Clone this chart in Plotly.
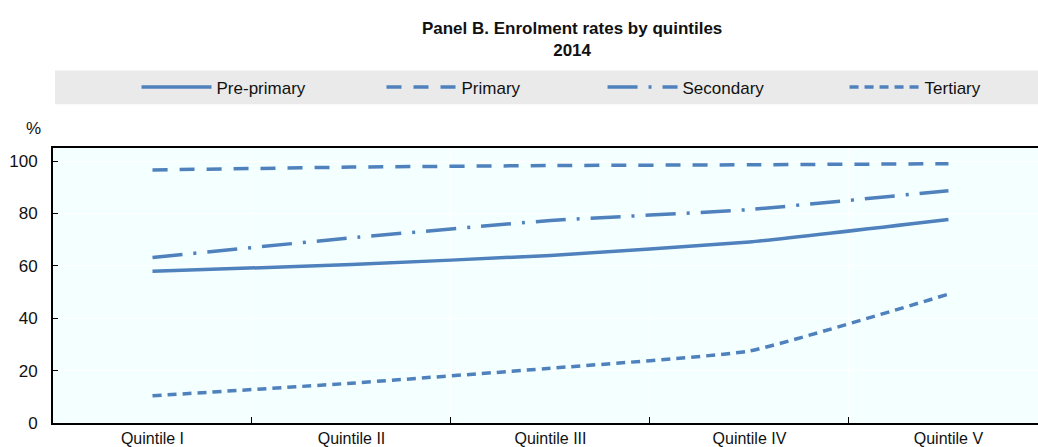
import plotly.graph_objects as go

BLUE = "#4F81BD"
BG = "#F4FFFF"
BAND = "#EAEAEA"
FONT = "Liberation Sans, Arial, sans-serif"

quintiles = ["Quintile I", "Quintile II", "Quintile III", "Quintile IV", "Quintile V"]
pre_primary = [57.9, 60.5, 64.0, 69.1, 77.7]
primary = [96.6, 97.7, 98.3, 98.6, 99.0]
secondary = [63.2, 70.7, 77.3, 81.5, 88.7]
tertiary = [10.4, 15.2, 20.9, 27.5, 49.2]

# name, values, dash pattern, legend id, legend x (paper)
series = [
    ("Pre-primary", pre_primary, "solid", "legend", 0.0848),
    ("Primary", primary, "15px,12px", "legend2", 0.3335),
    ("Secondary", secondary, "30px,11px,3px,11px", "legend3", 0.5579),
    ("Tertiary", tertiary, "9px,6px", "legend4", 0.8036),
]

fig = go.Figure()
legends = {}
for name, vals, dash, leg, lx in series:
    fig.add_trace(go.Scatter(
        x=quintiles, y=vals, name=name, mode="lines", legend=leg, showlegend=True,
        line=dict(color=BLUE, width=3.5, dash=dash, shape="spline", smoothing=0.4),
    ))
    # one legend per series so the entries sit where the original has them
    legends[leg] = dict(orientation="h", x=lx, xanchor="left", y=1.22, yanchor="middle",
                        bgcolor="rgba(0,0,0,0)", itemwidth=70, font=dict(size=17))

# grey band behind the legend
fig.add_shape(type="rect", xref="paper", yref="paper",
              x0=0.002, x1=1, y0=1.159, y1=1.2816,
              fillcolor=BAND, line_width=0, layer="below")

fig.add_annotation(text="%", xref="paper", yref="paper", x=-0.0203, y=1.072,
                   xanchor="center", yanchor="middle",
                   showarrow=False, font=dict(size=17))

fig.update_layout(
    width=1038, height=447, showlegend=True,
    paper_bgcolor="white", plot_bgcolor=BG,
    font=dict(family=FONT, size=17, color="#111"),
    margin=dict(l=53, r=0, t=148, b=22),
    title=dict(text="<b>Panel B. Enrolment rates by quintiles<br>2014</b>",
               x=0.527, xref="paper", xanchor="center",
               y=0.925, yanchor="top", font=dict(size=17)),
    xaxis=dict(range=[-0.5, 4.45], tickson="boundaries", ticks="inside", ticklen=6,
               tickcolor="#000", showgrid=True, gridcolor="white", gridwidth=1,
               showline=True, linecolor="#000", linewidth=2, mirror=True,
               tickfont=dict(size=16)),
    yaxis=dict(range=[0, 105], tickvals=[0, 20, 40, 60, 80, 100],
               ticks="inside", ticklen=5, tickcolor="#000", ticklabelstandoff=10,
               showgrid=True, gridcolor="white", gridwidth=1, zeroline=False,
               showline=True, linecolor="#000", linewidth=2,
               tickfont=dict(size=17)),
    **legends,
)

fig.write_html("out.html", config={"displayModeBar": False},
               post_script="document.body.style.margin='0';")
